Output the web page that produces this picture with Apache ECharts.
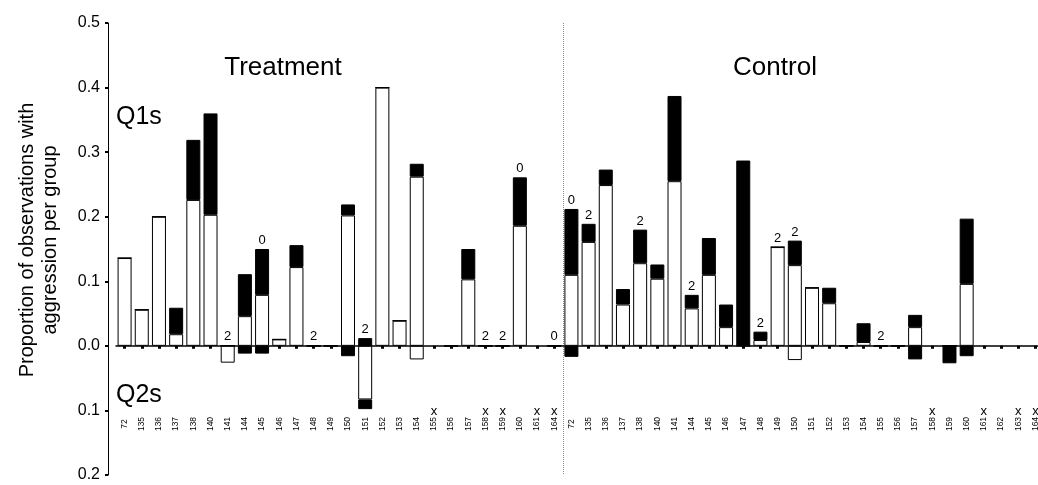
<!DOCTYPE html>
<html>
<head>
<meta charset="utf-8">
<script src="https://cdn.jsdelivr.net/npm/echarts@6/dist/echarts.min.js"></script>
<style>
html,body{margin:0;padding:0;background:#fff;}
#chart{width:1038px;height:485px;}
</style>
</head>
<body>
<div id="chart"></div>
<script>
// ---- Data ----
const treatCats = ['72','135','136','137','138','140','141','144','145','146','147','148','149','150','151','152','153','154','155','156','157','158','159','160','161','164'];
const ctrlCats  = ['72','135','136','137','138','140','141','144','145','146','147','148','149','150','151','152','153','154','155','156','157','158','159','160','161','162','163','164'];

// Q1s (above zero): white = lower part, black = upper part
const treatQ1White = [0.136,0.056,0.2,0.018,0.226,0.203,0,0.046,0.079,0.01,0.122,0,0,0.202,0,0.4,0.039,0.262,null,0,0.103,0,0,0.186,null,0];
const treatQ1Black = [0,0,0,0.041,0.093,0.157,0,0.065,0.071,0,0.034,0,0,0.017,0.012,0,0,0.02,null,0,0.047,0,0,0.075,null,0];
const ctrlQ1White  = [0.11,0.161,0.249,0.064,0.128,0.104,0.255,0.058,0.11,0.029,0,0.009,0.153,0.125,0.09,0.066,0,0.006,0,0,0.029,null,0,0.096,null,null,null,null];
const ctrlQ1Black  = [0.102,0.028,0.024,0.024,0.052,0.022,0.132,0.021,0.057,0.035,0.287,0.013,0,0.038,0,0.024,0,0.029,0,0,0.019,null,0,0.101,null,null,null,null];

// Q2s (below zero): white = upper part, black = lower part
const treatQ2White = [null,null,null,null,null,null,-0.026,null,null,null,null,null,null,null,-0.083,null,null,-0.021,null,null,null,null,null,null,null,null];
const treatQ2Black = [null,null,null,null,null,null,null,-0.012,-0.012,null,null,null,null,-0.016,-0.015,null,null,null,null,null,null,null,null,null,null,null];
const ctrlQ2White  = [null,null,null,null,null,null,null,null,null,null,null,null,null,-0.022,null,null,null,null,null,null,null,null,null,null,null,null,null,null];
const ctrlQ2Black  = [-0.017,null,null,null,null,null,null,null,null,null,null,null,null,null,null,null,null,null,null,null,-0.021,null,-0.027,-0.016,null,null,null,null];

// Annotations above bars and "x" markers below
const treatAnno = ['','','','','','','2','','0','','','2','','','2','','','','','','','2','2','0','','0'];
const ctrlAnno  = ['0','2','','','2','','','2','','','','2','2','2','','','','','2','','','','','','','','',''];
const treatX    = ['','','','','','','','','','','','','','','','','','','x','','','x','x','','x','x'];
const ctrlX     = ['','','','','','','','','','','','','','','','','','','','','','x','','','x','','x','x'];

const yTicks = [-0.2,-0.1,0,0.1,0.2,0.3,0.4,0.5];

// ---- Build ----
const cats = treatCats.concat(ctrlCats);
const anno = treatAnno.concat(ctrlAnno);
const xMarks = treatX.concat(ctrlX);
const q1W = treatQ1White.concat(ctrlQ1White);
const q1B = treatQ1Black.concat(ctrlQ1Black);
const q2W = treatQ2White.concat(ctrlQ2White);
const q2B = treatQ2Black.concat(ctrlQ2Black);
const splitIndex = treatCats.length;

const FONT = 'Liberation Sans, Arial, sans-serif';
const barBase = {type:'bar', stack:'all', barWidth:14, xAxisIndex:0, yAxisIndex:0};
const white = {color:'#fff', borderColor:'#000', borderWidth:1};
const black = {color:'#000', borderColor:'#000', borderWidth:1};

const chart = echarts.init(document.getElementById('chart'), null, {renderer:'canvas'});
chart.setOption({
  animation:false,
  backgroundColor:'#fff',
  textStyle:{fontFamily:FONT},
  title:[
    {text:'Treatment', left:278, top:50, textAlign:'center', textStyle:{fontSize:26, fontWeight:'normal', color:'#000', fontFamily:FONT}},
    {text:'Control', left:770, top:50, textAlign:'center', textStyle:{fontSize:26, fontWeight:'normal', color:'#000', fontFamily:FONT}},
    {text:'Q1s', left:111, top:100, textStyle:{fontSize:25, fontWeight:'normal', color:'#000', fontFamily:FONT}},
    {text:'Q2s', left:111, top:378, textStyle:{fontSize:25, fontWeight:'normal', color:'#000', fontFamily:FONT}}
  ],
  grid:{left:116, top:23, width:928, height:452, containLabel:false, outerBoundsMode:'none'},
  xAxis:[{
    type:'category', data:cats, gridIndex:0, position:'bottom',
    axisLine:{show:true, onZero:true, lineStyle:{color:'#000', width:1.5}},
    axisTick:{show:true, alignWithLabel:true, interval:0, length:3, lineStyle:{color:'#000', width:3}},
    axisLabel:{interval:0, rotate:90, align:'center', verticalAlign:'middle', margin:-51, fontSize:8.5, color:'#000', fontFamily:FONT},
    splitLine:{show:false}
  },{
    type:'category', data:xMarks, gridIndex:0, position:'bottom',
    axisLine:{show:false, onZero:true}, axisTick:{show:false},
    axisLabel:{interval:0, margin:-64, verticalAlign:'middle', fontSize:13, color:'#000', fontFamily:FONT},
    splitLine:{show:true, showMinLine:false, showMaxLine:false, interval:(i)=> i===0 || i===splitIndex,
               lineStyle:{type:'dotted', color:'#8a8a8a', width:1}}
  }],
  yAxis:{
    type:'value', min:yTicks[0], max:yTicks[yTicks.length-1], interval:0.1, offset:8,
    axisLine:{show:true, lineStyle:{color:'#000', width:1}},
    axisTick:{show:true, length:3, lineStyle:{color:'#000', width:2}},
    axisLabel:{formatter:(v)=>Math.abs(v).toFixed(1), fontSize:16, color:'#000', margin:8, fontFamily:FONT},
    splitLine:{show:false},
    name:'Proportion of observations with\naggression per group',
    nameLocation:'middle', nameRotate:90, nameGap:46,
    nameTextStyle:{fontSize:20, lineHeight:23, color:'#000', fontFamily:FONT, padding:[0,0,0,18]}
  },
  series:[
    Object.assign({}, barBase, {name:'Q1 white', data:q1W, itemStyle:white}),
    Object.assign({}, barBase, {name:'Q1 black', data:q1B, itemStyle:black,
      label:{show:true, position:'top', distance:2, fontSize:13, color:'#000', fontFamily:FONT,
             formatter:(p)=> anno[p.dataIndex] || ''}}),
    Object.assign({}, barBase, {name:'Q2 white', data:q2W, itemStyle:white}),
    Object.assign({}, barBase, {name:'Q2 black', data:q2B, itemStyle:black})
  ]
});
</script>
</body>
</html>
